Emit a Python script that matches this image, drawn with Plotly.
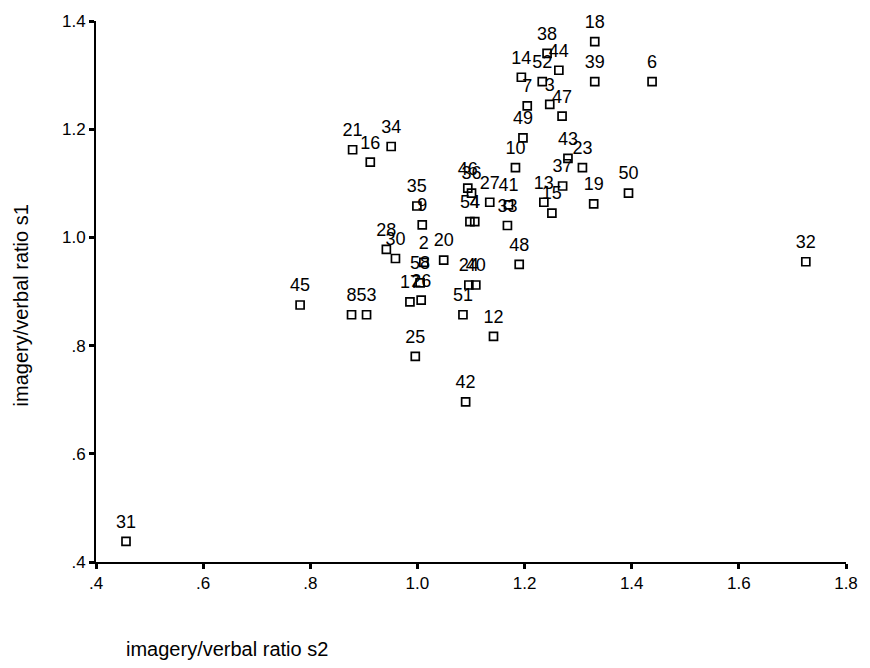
import plotly.graph_objects as go

labels = ["18", "38", "44", "14", "52", "39", "6", "7", "3", "47", "49",
          "21", "16", "34", "10", "43", "23", "46", "36", "27", "41",
          "54", "4", "33", "13", "15", "37", "19", "50", "35", "9",
          "28", "30", "2", "20", "48", "58", "17", "26", "24", "40",
          "51", "12", "25", "8", "53", "45", "42", "32", "31"]
ratio_s2 = [1.331, 1.242, 1.264, 1.194, 1.233, 1.331, 1.438, 1.205, 1.247, 1.270, 1.197,
            0.879, 0.912, 0.951, 1.183, 1.281, 1.308, 1.094, 1.101, 1.135, 1.170,
            1.098, 1.107, 1.168, 1.236, 1.251, 1.271, 1.329, 1.394, 0.999, 1.009,
            0.942, 0.959, 1.012, 1.049, 1.190, 1.005, 0.986, 1.007, 1.096, 1.109,
            1.085, 1.142, 0.996, 0.877, 0.905, 0.781, 1.090, 1.725, 0.456]
ratio_s1 = [1.362, 1.340, 1.309, 1.296, 1.288, 1.288, 1.288, 1.243, 1.246, 1.224, 1.184,
            1.162, 1.139, 1.168, 1.129, 1.146, 1.129, 1.091, 1.082, 1.065, 1.060,
            1.029, 1.029, 1.022, 1.065, 1.045, 1.095, 1.062, 1.082, 1.058, 1.023,
            0.978, 0.961, 0.954, 0.958, 0.950, 0.916, 0.881, 0.884, 0.912, 0.912,
            0.857, 0.817, 0.780, 0.857, 0.857, 0.875, 0.696, 0.955, 0.438]

x_ticks = [0.4, 0.6, 0.8, 1.0, 1.2, 1.4, 1.6, 1.8]
x_ticktext = [".4", ".6", ".8", "1.0", "1.2", "1.4", "1.6", "1.8"]
y_ticks = [0.4, 0.6, 0.8, 1.0, 1.2, 1.4]
y_ticktext = [".4", ".6", ".8", "1.0", "1.2", "1.4"]

FONT = "Liberation Sans, Arial, sans-serif"

fig = go.Figure()
fig.add_trace(go.Scatter(
    x=ratio_s2, y=ratio_s1, mode="markers",
    marker=dict(symbol="square-open", size=8, color="black", line=dict(width=1.7, color="black")),
    cliponaxis=False, hoverinfo="skip",
))
fig.add_trace(go.Scatter(
    x=ratio_s2, y=ratio_s1, mode="markers+text", text=labels,
    textposition="top center",
    textfont=dict(family=FONT, size=18, color="black"),
    marker=dict(size=13, color="rgba(0,0,0,0)"),
    cliponaxis=False, hoverinfo="skip",
))

fig.update_layout(
    width=870, height=668, plot_bgcolor="white", paper_bgcolor="white",
    margin=dict(l=96, r=18, t=15, b=106), showlegend=False,
    font=dict(family=FONT, color="black"),
    annotations=[
        dict(text="imagery/verbal ratio s2", xref="paper", yref="paper",
             x=(124 - 96) / 756, y=-(650 - 562) / 547, xanchor="left", yanchor="middle",
             showarrow=False, font=dict(size=20, family=FONT, color="black")),
        dict(text="imagery/verbal ratio s1", xref="paper", yref="paper",
             x=(20 - 96) / 756, y=(562 - 303) / 547, xanchor="center", yanchor="middle",
             textangle=-90, showarrow=False, font=dict(size=20, family=FONT, color="black")),
    ],
)
fig.update_xaxes(range=[0.4, 1.8], tickvals=x_ticks, ticktext=x_ticktext,
                 showgrid=False, zeroline=False, showline=True, linecolor="black", linewidth=2,
                 ticks="outside", ticklen=5, tickwidth=3, tickcolor="black",
                 tickfont=dict(size=17, family=FONT, color="black"))
fig.update_yaxes(range=[0.4, 1.4], tickvals=y_ticks, ticktext=y_ticktext,
                 showgrid=False, zeroline=False, showline=True, linecolor="black", linewidth=2,
                 ticks="outside", ticklen=5, tickwidth=3, tickcolor="black",
                 tickfont=dict(size=17, family=FONT, color="black"))

fig.write_html("out.html")
